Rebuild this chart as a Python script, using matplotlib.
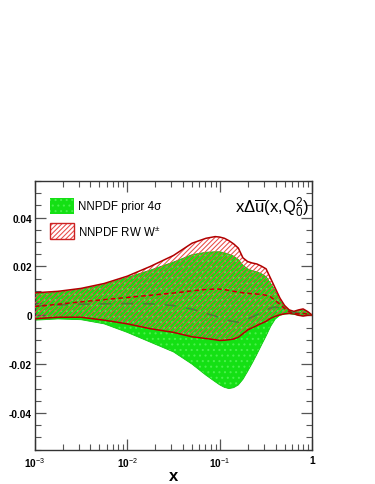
import numpy as np
import matplotlib
matplotlib.use("Agg")
import matplotlib.pyplot as plt
from matplotlib.ticker import LogLocator, MultipleLocator, FixedLocator, NullFormatter
from matplotlib.patches import Rectangle

plt.rcParams['font.family'] = ['Liberation Sans', 'DejaVu Sans']
plt.rcParams['mathtext.fontset'] = 'custom'
plt.rcParams['mathtext.rm'] = 'Liberation Sans'
plt.rcParams['mathtext.it'] = 'Liberation Sans'
plt.rcParams['mathtext.bf'] = 'Liberation Sans:bold'
plt.rcParams['hatch.linewidth'] = 0.75

# ---- data (log10 x grid and band values) ----
log_x = [-3, -2.75, -2.5, -2.25, -2, -1.75, -1.5, -1.3, -1.15, -1.05, -1.0, -0.95, -0.9, -0.85,
         -0.8, -0.75, -0.7, -0.65, -0.6, -0.55, -0.5, -0.45, -0.4, -0.35, -0.3, -0.25, -0.2,
         -0.15, -0.1, -0.05, 0]

prior_upper = [0.0088, 0.0094, 0.0106, 0.0126, 0.0155, 0.0185, 0.0218, 0.0248, 0.0258, 0.0260,
               0.0260, 0.0256, 0.0250, 0.0242, 0.0228, 0.0205, 0.0190, 0.0183, 0.0178, 0.0170,
               0.0158, 0.0130, 0.0100, 0.0060, 0.0035, 0.0020, 0.0014, 0.0018, 0.0022, 0.0012,
               0.0]
prior_lower = [-0.0020, -0.0015, -0.0018, -0.0035, -0.0070, -0.0110, -0.0150, -0.0200, -0.0245,
               -0.0272, -0.0285, -0.0295, -0.0300, -0.0296, -0.0285, -0.0262, -0.0230, -0.0196,
               -0.0160, -0.0122, -0.0085, -0.0045, -0.0015, 0.0000, 0.0005, 0.0006, 0.0004,
               0.0000, -0.0002, 0.0000, 0.0]
prior_central = [0.0038, 0.0042, 0.0045, 0.0047, 0.0048, 0.0047, 0.0040, 0.0025, 0.0008, -0.0003,
                 -0.0010, -0.0016, -0.0022, -0.0026, -0.0028, -0.0025, -0.0015, -0.0007, 0.0002,
                 0.0011, 0.0020, 0.0030, 0.0034, 0.0030, 0.0022, 0.0015, 0.0010, 0.0009, 0.0010,
                 0.0005, 0.0]

rw_upper = [0.0092, 0.0098, 0.0110, 0.0130, 0.0160, 0.0200, 0.0245, 0.0295, 0.0315, 0.0322,
            0.0320, 0.0315, 0.0305, 0.0292, 0.0275, 0.0235, 0.0220, 0.0214, 0.0210, 0.0201,
            0.0190, 0.0150, 0.0110, 0.0070, 0.0040, 0.0022, 0.0016, 0.0022, 0.0026, 0.0015, 0.0]
rw_lower = [-0.0014, -0.0008, -0.0008, -0.0020, -0.0035, -0.0055, -0.0070, -0.0088, -0.0095,
            -0.0100, -0.0103, -0.0102, -0.0100, -0.0097, -0.0090, -0.0075, -0.0060, -0.0051,
            -0.0042, -0.0033, -0.0025, -0.0012, -0.0004, 0.0002, 0.0006, 0.0008, 0.0006,
            0.0000, -0.0003, 0.0000, 0.0]
rw_central = [0.0036, 0.0045, 0.0055, 0.0064, 0.0073, 0.0082, 0.0091, 0.0100, 0.0106, 0.0107,
              0.0107, 0.0105, 0.0102, 0.0098, 0.0095, 0.0092, 0.0090, 0.0088, 0.0087, 0.0085,
              0.0082, 0.0075, 0.0060, 0.0045, 0.0028, 0.0015, 0.0008, 0.0006, 0.0008, 0.0005, 0.0]

legend_labels = ["NNPDF prior 4σ", "NNPDF RW W$^{\\pm}$"]
y_tick_values = [-0.04, -0.02, 0, 0.02, 0.04]
y_tick_labels = ["-0.04", "-0.02", "0", "0.02", "0.04"]
x_tick_values = [1e-3, 1e-2, 1e-1, 1]
x_tick_labels = ["10$^{-3}$", "10$^{-2}$", "10$^{-1}$", "1"]

x = 10 ** np.array(log_x)

GREEN = '#14e014'
HATCH_RED = '#e84848'
fig = plt.figure(figsize=(3.75, 4.85), dpi=100)
ax = fig.add_axes([0.0925, 0.0707, 0.7405, 0.5543])

# prior band
ax.fill_between(x, prior_lower, prior_upper, facecolor=GREEN, edgecolor='#4af04a',
                hatch='...', linewidth=0, zorder=1)
ax.plot(x, prior_upper, color='#0fc80f', lw=0.6, zorder=2)
ax.plot(x, prior_lower, color='#0fc80f', lw=0.6, zorder=2)

# RW band
ax.fill_between(x, rw_lower, rw_upper, facecolor='none', edgecolor=HATCH_RED,
                hatch='///////', linewidth=0, zorder=3)
ax.plot(x, rw_upper, color='#b00000', lw=1.1, zorder=4)
ax.plot(x, rw_lower, color='#b00000', lw=1.1, zorder=4)

# central values
ax.plot(x, prior_central, color='#4a7f35', lw=1.2, dashes=(7, 6), zorder=4)
ax.plot(x, rw_central, color='#c00000', lw=1.1, dashes=(3, 2), zorder=5)

ax.set_xscale('log')
ax.set_xlim(1e-3, 1)
ax.set_ylim(-0.055, 0.055)

ax.xaxis.set_major_locator(FixedLocator(x_tick_values))
ax.set_xticklabels(x_tick_labels)
ax.xaxis.set_minor_locator(LogLocator(base=10, subs=np.arange(2, 10)))
ax.xaxis.set_minor_formatter(NullFormatter())
ax.yaxis.set_major_locator(FixedLocator(y_tick_values))
ax.set_yticklabels(y_tick_labels)
ax.yaxis.set_minor_locator(MultipleLocator(0.005))

ax.tick_params(which='both', direction='in', top=True, right=True, color='#555555')
ax.tick_params(which='major', length=8, width=0.9)
ax.tick_params(which='minor', length=4, width=0.8)
ax.tick_params(axis='y', labelsize=7.3, pad=2)
ax.tick_params(axis='x', labelsize=7.3, pad=4)
for lab in ax.get_yticklabels() + ax.get_xticklabels():
    lab.set_fontweight('bold')
for sp in ax.spines.values():
    sp.set_color('#333333')
    sp.set_linewidth(1.0)

ax.set_xlabel('x', fontsize=12, fontweight='bold', labelpad=-1)

ax.text(0.985, 0.905, r'x$\Delta\overline{\mathrm{u}}$(x,Q$_0^2$)', transform=ax.transAxes,
        ha='right', va='center', fontsize=12)

# legend
for i, lab in enumerate(legend_labels):
    yc = 0.905 - i * 0.093
    if i == 0:
        r = Rectangle((0.055, yc - 0.03), 0.085, 0.06, transform=ax.transAxes,
                      facecolor=GREEN, edgecolor='#4af04a', hatch='...', lw=0, zorder=6)
    else:
        r = Rectangle((0.055, yc - 0.03), 0.085, 0.06, transform=ax.transAxes,
                      facecolor='white', edgecolor=HATCH_RED, hatch='///////', lw=0, zorder=6)
        r2 = Rectangle((0.055, yc - 0.03), 0.085, 0.06, transform=ax.transAxes,
                       facecolor='none', edgecolor='#cc2222', lw=1.0, zorder=7)
        ax.add_patch(r2)
    ax.add_patch(r)
    ax.text(0.155, yc, lab, transform=ax.transAxes, ha='left', va='center', fontsize=8.3)

fig.savefig('out.png', dpi=100)
